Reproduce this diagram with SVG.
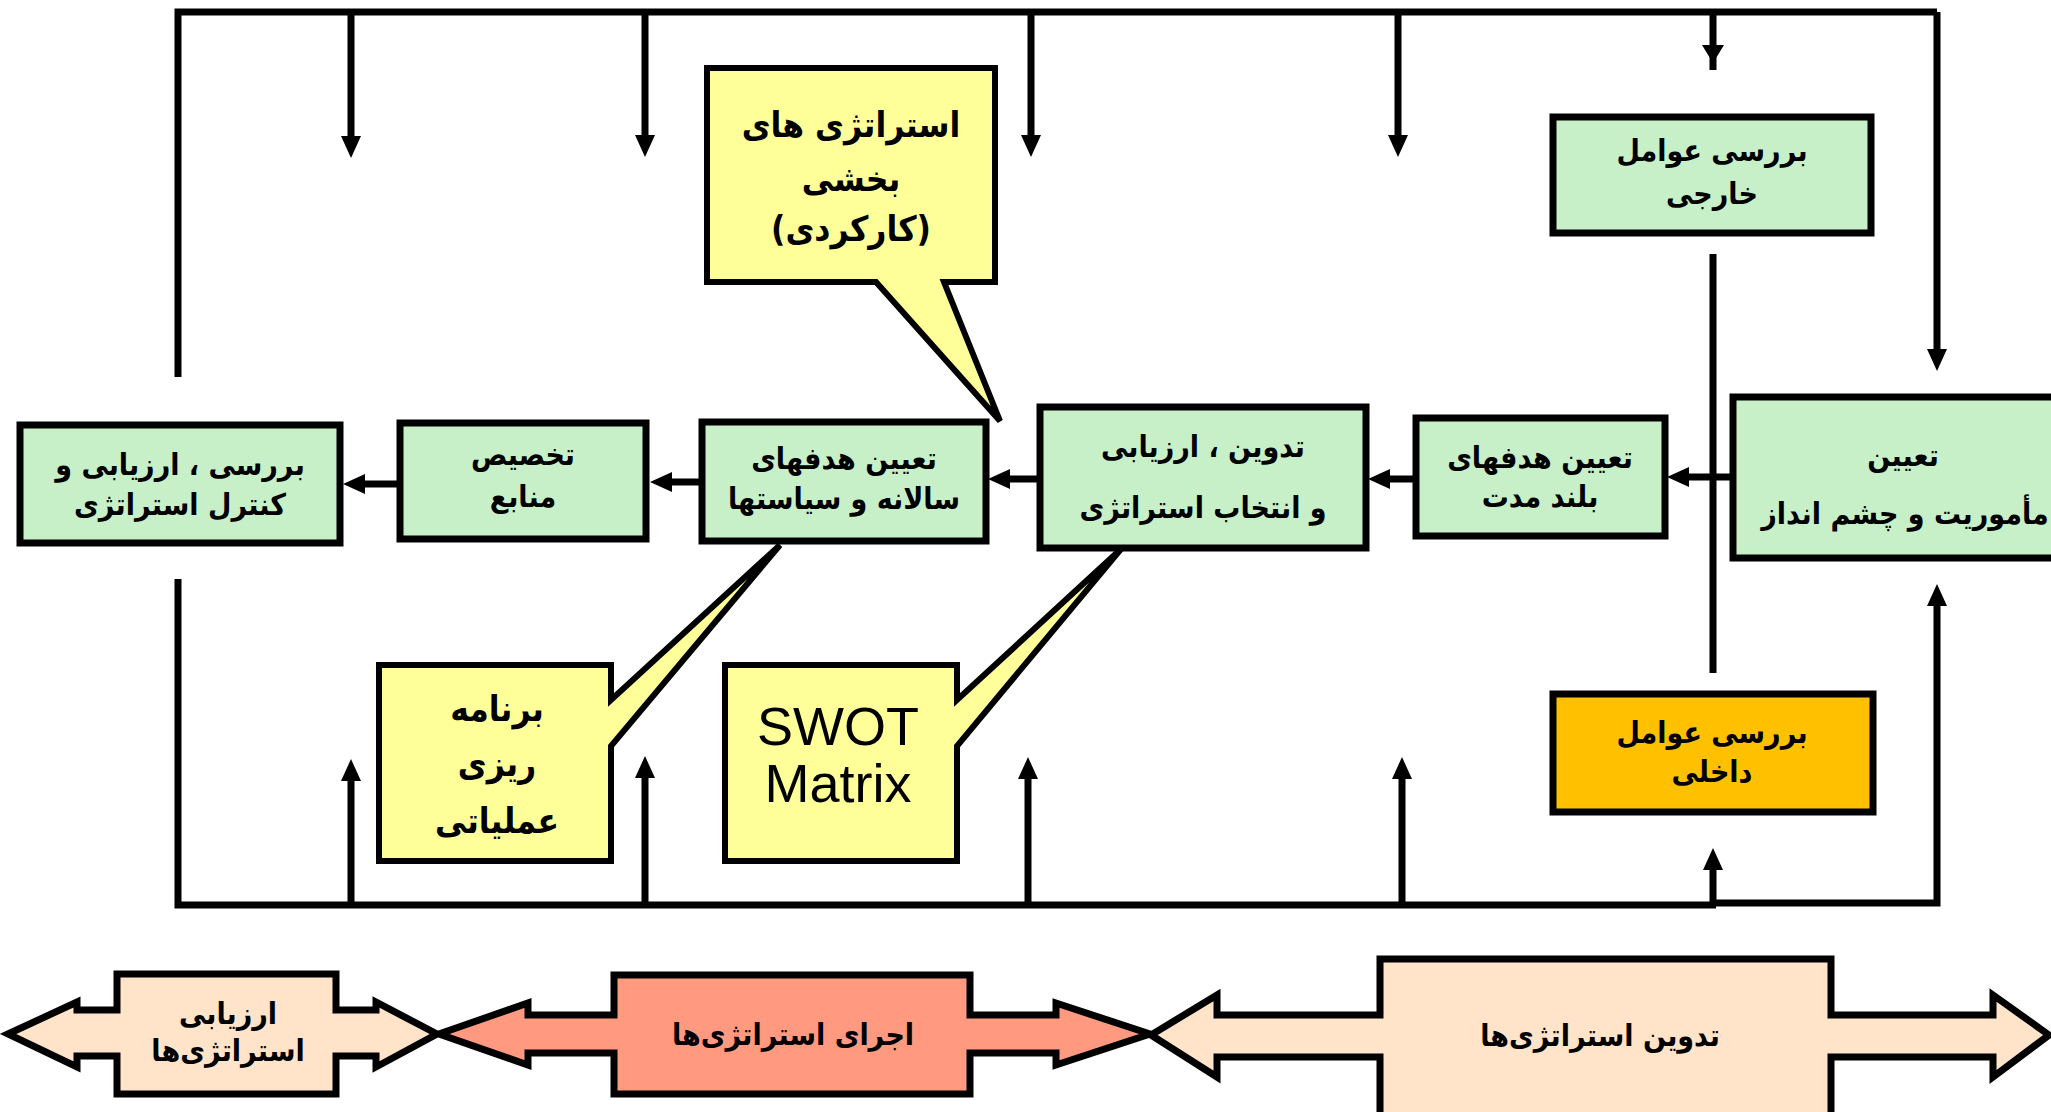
<svg xmlns="http://www.w3.org/2000/svg" width="2051" height="1112" viewBox="0 0 2051 1112">
<style>
.box{stroke:#000;stroke-width:7}
.g{fill:#C8F0C8}
.y{fill:#FFFF99;stroke:#000;stroke-width:6;stroke-linejoin:miter}
.o{fill:#FFC000}
.p{fill:#FFE4CA;stroke:#000;stroke-width:7}
.s{fill:#FF9A80;stroke:#000;stroke-width:7}
.ln{stroke:#000;stroke-width:7;fill:none}
.t{font-family:"DejaVu Sans Condensed","DejaVu Sans",sans-serif;font-weight:bold;font-size:30px;fill:#000;text-anchor:middle;dominant-baseline:central}
.tb{font-size:35px}
.sw{font-family:"Liberation Sans",Arial,sans-serif;font-size:54px;fill:#000;text-anchor:middle}
</style>
<defs>
<marker id="ah" markerUnits="userSpaceOnUse" markerWidth="24" markerHeight="22" refX="1" refY="10" orient="auto" viewBox="0 0 24 20">
<path d="M0,0 L22,10 L0,20 Z" fill="#000"/>
</marker>
</defs>

<g id="connectors">
<polyline class="ln" points="178,377 178,12 1937,12"/>
<line class="ln" x1="1937" y1="12" x2="1937" y2="350" marker-end="url(#ah)"/>
<line class="ln" x1="351" y1="12" x2="351" y2="137" marker-end="url(#ah)"/>
<line class="ln" x1="645" y1="12" x2="645" y2="136" marker-end="url(#ah)"/>
<line class="ln" x1="1031" y1="12" x2="1031" y2="136" marker-end="url(#ah)"/>
<line class="ln" x1="1398" y1="12" x2="1398" y2="136" marker-end="url(#ah)"/>
<line class="ln" x1="1713" y1="12" x2="1713" y2="70"/>
<polygon points="1702,45 1724,45 1713,63" fill="#000"/>
<line class="ln" x1="1713" y1="254" x2="1713" y2="673"/>
<line class="ln" x1="1733" y1="477" x2="1688" y2="477" marker-end="url(#ah)"/>
<line class="ln" x1="1416" y1="479" x2="1389" y2="479" marker-end="url(#ah)"/>
<line class="ln" x1="1040" y1="479" x2="1009" y2="479" marker-end="url(#ah)"/>
<line class="ln" x1="702" y1="482" x2="671" y2="482" marker-end="url(#ah)"/>
<line class="ln" x1="400" y1="484" x2="364" y2="484" marker-end="url(#ah)"/>
<polyline class="ln" points="178,579 178,905 1716,905"/>
<polyline class="ln" points="1713,903 1937,903 1937,605" marker-end="url(#ah)"/>
<line class="ln" x1="351" y1="905" x2="351" y2="780" marker-end="url(#ah)"/>
<line class="ln" x1="645" y1="905" x2="645" y2="777" marker-end="url(#ah)"/>
<line class="ln" x1="1028" y1="905" x2="1028" y2="778" marker-end="url(#ah)"/>
<line class="ln" x1="1402" y1="905" x2="1402" y2="778" marker-end="url(#ah)"/>
<line class="ln" x1="1713" y1="905" x2="1713" y2="869" marker-end="url(#ah)"/>
</g>

<g id="node-external">
<rect class="box g" x="1553" y="117" width="318" height="116"/>
<text class="t" x="1712" y="150">بررسی عوامل</text>
<text class="t" x="1712" y="193">خارجی</text>
</g>

<g id="node-mission">
<rect class="box g" x="1733" y="397" width="350" height="161"/>
<text class="t" x="1903" y="455">تعیین</text>
<text class="t" x="1905" y="513">مأموریت و چشم انداز</text>
</g>

<g id="node-longterm">
<rect class="box g" x="1416" y="418" width="249" height="118"/>
<text class="t" x="1540" y="457">تعیین هدفهای</text>
<text class="t" x="1540" y="496">بلند مدت</text>
</g>

<g id="node-formulate">
<rect class="box g" x="1040" y="407" width="326" height="141"/>
<text class="t" x="1203" y="446">تدوین ، ارزیابی</text>
<text class="t" x="1203" y="507">و انتخاب استراتژی</text>
</g>

<g id="node-annual">
<rect class="box g" x="702" y="422" width="284" height="119"/>
<text class="t" x="844" y="458">تعیین هدفهای</text>
<text class="t" x="844" y="498">سالانه و سیاستها</text>
</g>

<g id="node-resources">
<rect class="box g" x="400" y="423" width="246" height="116"/>
<text class="t" x="523" y="454">تخصیص</text>
<text class="t" x="523" y="496">منابع</text>
</g>

<g id="node-control">
<rect class="box g" x="20" y="425" width="320" height="118"/>
<text class="t" x="180" y="464">بررسی ، ارزیابی و</text>
<text class="t" x="180" y="504">کنترل استراتژی</text>
</g>

<g id="node-internal">
<rect class="box o" x="1553" y="694" width="320" height="118"/>
<text class="t" x="1712" y="732">بررسی عوامل</text>
<text class="t" x="1712" y="771">داخلی</text>
</g>

<g id="callout-functional">
<path class="y" d="M707,68 H995 V282 H944 L1000,421 L876,282 H707 Z"/>
<text class="t tb" x="851" y="125">استراتژی های</text>
<text class="t tb" x="851" y="179">بخشی</text>
<text class="t tb" x="851" y="229">(کارکردی)</text>
</g>

<g id="callout-operational">
<path class="y" d="M379,665 H611 V700 L780,545 L611,746 V861 H379 Z"/>
<text class="t tb" x="497" y="709">برنامه</text>
<text class="t tb" x="497" y="764">ریزی</text>
<text class="t tb" x="497" y="821">عملیاتی</text>
</g>

<g id="callout-swot">
<path class="y" d="M725,665 H957 V700 L1121,549 L957,746 V861 H725 Z"/>
<text class="sw" x="838" y="745">SWOT</text>
<text class="sw" x="838" y="802">Matrix</text>
</g>

<g id="phase-evaluate">
<path class="p" d="M117,974 H336 V1010 H376 V1002 L437,1034 L376,1067 V1056 H336 V1094 H117 V1056 H77 V1067 L8,1034 L77,1002 V1010 H117 Z"/>
<text class="t" x="228" y="1013">ارزیابی</text>
<text class="t" x="228" y="1050">استراتژی&#8204;ها</text>
</g>

<g id="phase-implement">
<path class="s" d="M614,975 H970 V1015 H1056 V1003 L1150,1034 L1056,1065 V1053 H970 V1094 H614 V1053 H528 V1065 L439,1034 L528,1003 V1015 H614 Z"/>
<text class="t" x="793" y="1034">اجرای استراتژی&#8204;ها</text>
</g>

<g id="phase-formulate">
<path class="p" d="M1380,959 H1831 V1015 H1993 V995 L2049,1035 L1993,1077 V1057 H1831 V1125 H1380 V1057 H1217 V1077 L1151,1035 L1217,995 V1015 H1380 Z"/>
<text class="t" x="1600" y="1035">تدوین  استراتژی&#8204;ها</text>
</g>
</svg>
